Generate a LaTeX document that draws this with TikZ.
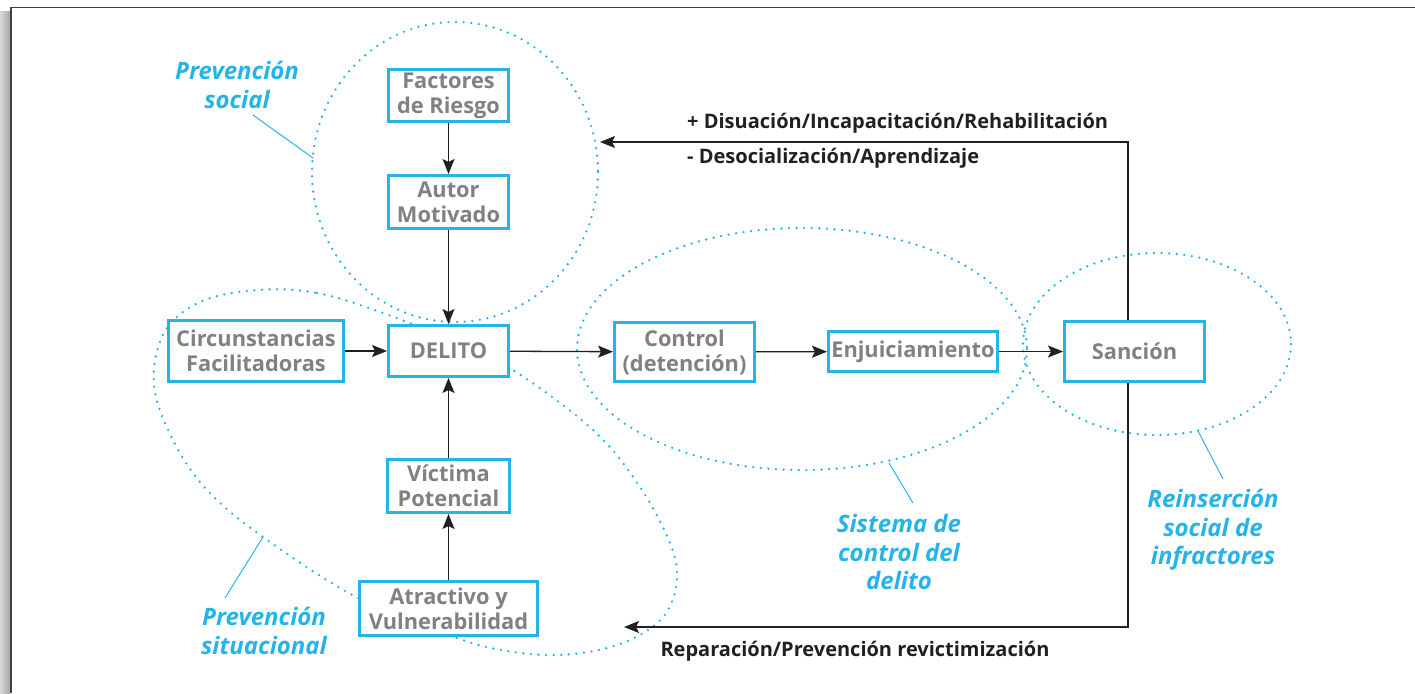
\documentclass[tikz,border=0pt]{standalone}
\usepackage{fontspec}
\setmainfont{Open Sans}
\usetikzlibrary{arrows.meta}
\definecolor{cy}{RGB}{38,180,232}
\definecolor{tg}{RGB}{128,129,132}
\definecolor{tk}{RGB}{35,31,32}
\begin{document}
\begin{tikzpicture}[x=1pt,y=-1pt,
  box/.style={draw=cy, line width=3pt, fill=white, text=tg, font=\fontsize{21.8}{25}\selectfont\bfseries, align=center, inner sep=0pt},
  arr/.style={line width=1.3pt, draw=tk, -{Stealth[length=15pt,width=12pt,inset=3pt]}},
  lbl/.style={text=tk, font=\fontsize{20}{24}\selectfont\bfseries, inner sep=0pt},
  ital/.style={text=cy, font=\fontsize{24}{28.5}\selectfont\bfseries\itshape, align=center, inner sep=0pt},
  lead/.style={draw=cy, line width=1pt},
  dots/.style={draw=cy, line width=2.6pt, line cap=round, dash pattern=on 0pt off 7.6pt}]
\useasboundingbox (0,0) rectangle (1415,693);
% frame
\shade[left color=gray!30, right color=gray!70] (0,12) rectangle (10,693);
\draw[line width=1.6pt, draw=black!75] (11,693) -- (11,7.5) -- (1415,7.5);
% ellipses
\draw[dots] (455,172) ellipse [x radius=143, y radius=150];
\draw[dots] plot[smooth cycle, tension=0.6] coordinates {(257,290) (317,293) (383,313) (450,340) (513,370) (593,430) (640,487) (670,543) (677,578) (668,610) (645,632) (607,648) (557,655) (507,651) (457,638) (358,598) (263,537) (207,490) (173,440) (154,385) (164,333) (200,302)};
\draw[dots] (802,349) ellipse [x radius=225, y radius=121];
\draw[dots] (1157,344) ellipse [x radius=134, y radius=91];
% boxes
\node[box, minimum width=120pt, minimum height=52pt] (fac) at (448.5,95.5) {Factores\\de Riesgo};
\node[box, minimum width=120pt, minimum height=53pt] (aut) at (448.5,202) {Autor\\Motivado};
\node[box, minimum width=120pt, minimum height=51pt] (del) at (448.5,351) {DELITO};
\node[box, minimum width=175pt, minimum height=61pt] (cir) at (256,351) {Circunstancias\\Facilitadoras};
\node[box, minimum width=140pt, minimum height=59pt] (con) at (684.5,352) {Control\\(detención)};
\node[box, minimum width=169pt, minimum height=40pt] (enj) at (913,351.5) {Enjuiciamiento};
\node[box, minimum width=140pt, minimum height=60pt] (san) at (1134.5,351.5) {Sanción};
\node[box, minimum width=122pt, minimum height=53pt] (vic) at (448.5,486) {Víctima\\Potencial};
\node[box, minimum width=178pt, minimum height=54pt] (atr) at (448.5,608.5) {Atractivo y\\Vulnerabilidad};
% arrows
\draw[arr] (fac) -- (aut);
\draw[arr] (aut) -- (del);
\draw[arr] (cir) -- (del);
\draw[arr] (vic) -- (del);
\draw[arr] (atr) -- (vic);
\draw[arr] (del) -- (con);
\draw[arr] (con) -- (enj);
\draw[arr] (enj) -- (san);
\coordinate (xl) at (1128,0);
\coordinate (topL) at (600,142);
\coordinate (botL) at (624,627);
\draw[arr] (san.north -| xl) |- (topL);
\draw[arr] (san.south -| xl) |- (botL);
% feedback labels
\node[lbl, anchor=west] (l1) at (687,123) {+ Disuación/Incapacitación/Rehabilitación};
\node[lbl, anchor=west] (l2) at (687,158) {- Desocialización/Aprendizaje};
\node[lbl] (l3) at (855,651) {Reparación/Prevención revictimización};
% italic labels
\node[ital] (ps) at (237,85) {Prevención\\social};
\node[ital] (pst) at (264,631) {Prevención\\situacional};
\node[ital] (sc) at (899,552) {Sistema de\\control del\\delito};
\node[ital] (ri) at (1213,530) {Reinserción\\social de\\infractores};
\coordinate (ps1) at (253,115); \coordinate (ps2) at (313,158);
\coordinate (pst1) at (225,598); \coordinate (pst2) at (263,537);
\coordinate (sc1) at (913,503); \coordinate (sc2) at (889,463);
\coordinate (ri1) at (1223,479); \coordinate (ri2) at (1198,431);
\draw[lead] (ps1) -- (ps2);
\draw[lead] (pst1) -- (pst2);
\draw[lead] (sc1) -- (sc2);
\draw[lead] (ri1) -- (ri2);
\end{tikzpicture}
\end{document}
